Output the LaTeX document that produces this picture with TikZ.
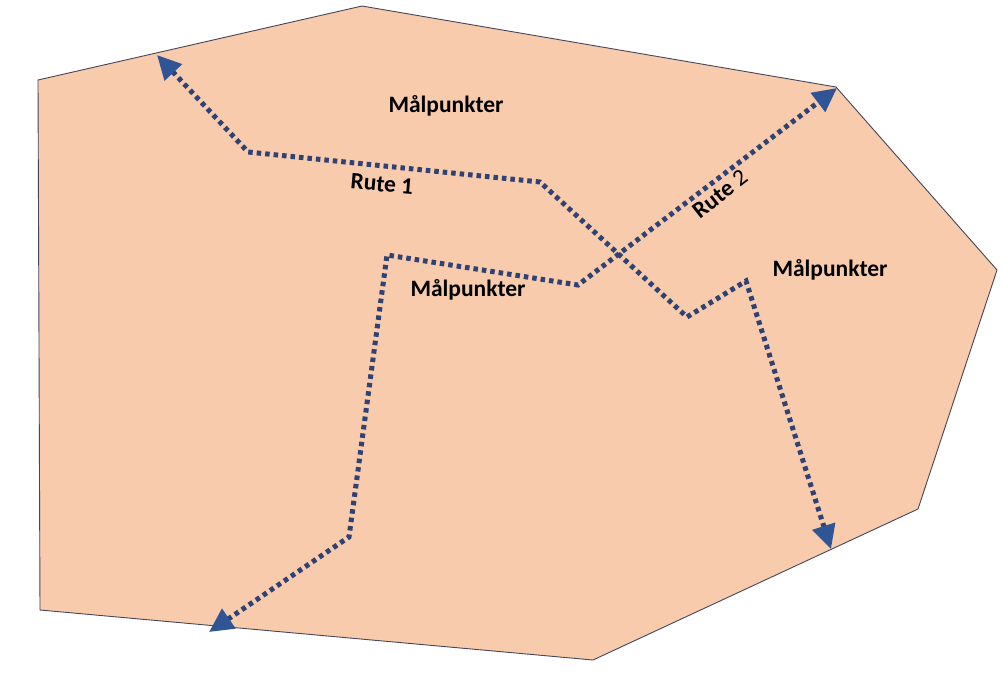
\documentclass[tikz,border=0pt]{standalone}
\usepackage{fontspec}
\setmainfont{Carlito}
\usetikzlibrary{arrows.meta}
\definecolor{omraade}{HTML}{F8CBAD}
\definecolor{kant}{HTML}{44465A}
\definecolor{prikk}{HTML}{2F4274}
\definecolor{pil}{HTML}{2F5597}
\begin{document}
\begin{tikzpicture}[x=1pt, y=-1pt,
  rute/.style = {draw=prikk, line width=5pt, dash pattern=on 4.5pt off 4pt,
    {Triangle[length=24pt, width=23pt, color=pil]}-{Triangle[length=24pt, width=23pt, color=pil]}},
  lbl/.style = {font=\bfseries\fontsize{23.5}{26}\selectfont, inner sep=0pt}]
\useasboundingbox (0,0) rectangle (1002,673);
% omraadet
\draw[kant, fill=omraade, line width=0.9pt] (38,80) -- (362,6) -- (836,87) -- (997,270)
  -- (918,509) -- (593,660) -- (40,610) -- cycle;
% knekkpunkter
\coordinate (a1) at (157,55);
\coordinate (a2) at (248,152);
\coordinate (a3) at (540,182);
\coordinate (a4) at (687,317);
\coordinate (a5) at (746,281);
\coordinate (a6) at (831,549);
\coordinate (b1) at (209,632);
\coordinate (b2) at (349,537);
\coordinate (b3) at (387,255);
\coordinate (b4) at (578,285);
\coordinate (b5) at (837,88);
% ruter
\draw[rute] (a1) -- (a2) -- (a3) -- (a4) -- (a5) -- (a6);
\draw[rute] (b1) -- (b2) -- (b3) -- (b4) -- (b5);
% tekst
\node[lbl] (m1) at (446,106) {Målpunkter};
\node[lbl] (m2) at (830,270) {Målpunkter};
\node[lbl] (m3) at (468,290) {Målpunkter};
\node[lbl, rotate=-5] (r1) at (382,184) {Rute 1};
\node[lbl, rotate=38] (r2) at (720,194) {Rute {\mdseries 2}};
\end{tikzpicture}
\end{document}
